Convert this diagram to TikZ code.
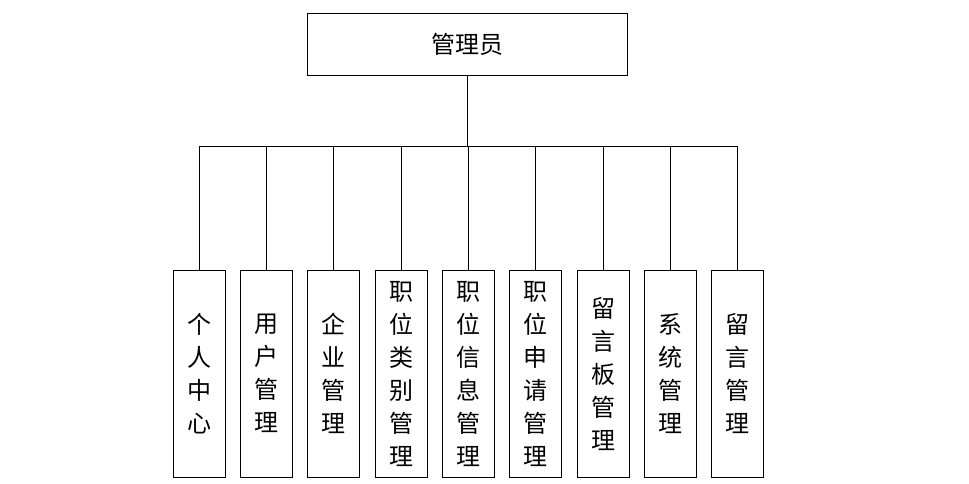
\documentclass[tikz,border=0pt]{standalone}
\usepackage{fontspec}
\newfontfamily\cjk{Noto Sans CJK SC}

\begin{document}
\begin{tikzpicture}[x=1pt, y=-1pt, line width=0.9pt,
    box/.style={draw, align=center, inner sep=0pt,
        font=\cjk\fontsize{24}{33}\selectfont}]
        \useasboundingbox (0,0) rectangle (969,484);
        % ==== ROOT ====
        \node[box, minimum width=320, minimum height=62] (admin) at (467.8,44.3) {管理员};
        \coordinate (bus) at (467.8,146);
        % ==== MODULES ====
        \foreach \lab [count=\i] in {{个\\人\\中\\心}, {用\\户\\管\\理}, {企\\业\\管\\理},
            {职\\位\\类\\别\\管\\理}, {职\\位\\信\\息\\管\\理}, {职\\位\\申\\请\\管\\理},
            {留\\言\\板\\管\\理}, {系\\统\\管\\理}, {留\\言\\管\\理}}
            \node[box, minimum width=52, minimum height=206.5, anchor=north]
                (mod\i) at ({199.3+(\i-1)*67.3},270) {\lab};
        % ==== CONNECTORS ====
        \draw (admin.south) -- (bus);
        \foreach \i in {1,...,9}
            \draw (mod\i.north) |- (bus);
\end{tikzpicture}
\end{document}
